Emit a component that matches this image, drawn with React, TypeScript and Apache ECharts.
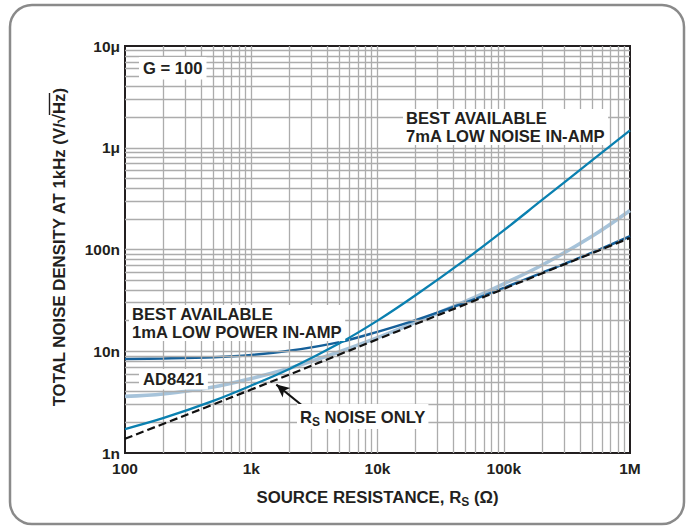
import React, { useEffect, useRef } from "react";
import * as echarts from "echarts";

// Source resistance (Ω)
const resistance = [100, 200, 500, 1000, 2000, 5000, 10000, 20000, 50000, 100000, 200000, 500000, 1000000];
// Noise densities in nV/√Hz
const rsNoiseOnly = [1.38, 1.93, 3.0, 4.2, 5.9, 9.3, 13.1, 18.5, 29, 41, 58, 92, 130];
const ad8421 = [3.6, 3.8, 4.45, 5.4, 6.8, 9.9, 13.6, 19.2, 31, 46, 70, 135, 242];
const bestLowNoise7mA = [1.72, 2.2, 3.25, 4.6, 6.7, 12, 20, 35.5, 80, 154, 305, 750, 1480];
const bestLowPower1mA = [8.4, 8.5, 8.75, 9.2, 10.1, 12.3, 15.5, 20.2, 30.2, 42, 59, 93, 135];

const xTickValues = [100, 1000, 10000, 100000, 1000000];
const xTickLabels = ["100", "1k", "10k", "100k", "1M"];
const yTickValues = [1, 10, 100, 1000, 10000];
const yTickLabels = ["1n", "10n", "100n", "1μ", "10μ"];

const FONT = '"Liberation Sans", Arial, Helvetica, sans-serif';
const INK = "#231f20";
const ANN = 16.6;

function pickLabel(values: number[], labels: string[], v: number) {
  const i = values.findIndex((t) => Math.abs(Math.log10(t) - Math.log10(v)) < 1e-6);
  return i >= 0 ? labels[i] : "";
}

export default function App() {
  const ref = useRef<HTMLDivElement>(null);
  useEffect(() => {
    const chart = echarts.init(ref.current!, null, { renderer: "svg" });

    const gridX: number[] = [];
    for (let d = 100; d < 1000000; d *= 10)
      for (let m = 1; m <= 9; m++) if (m * d > 100) gridX.push(m * d);
    const gridY: number[] = [];
    for (let d = 1; d < 10000; d *= 10)
      for (let m = 1; m <= 9; m++) if (m * d > 1) gridY.push(m * d);

    const pairs = (arr: number[]) => resistance.map((r, i) => [r, arr[i]]);

    const txt = (
      text: string,
      x: number,
      y: number,
      extra: Record<string, unknown> = {}
    ) => ({
      type: "text",
      x,
      y,
      z: 100,
      style: {
        text,
        font: `bold ${ANN}px ${FONT}`,
        fill: INK,
        backgroundColor: "#fff",
        padding: [1, 3, 0, 3],
        lineHeight: 17.5,
        verticalAlign: "top",
        ...extra,
      },
    });

    chart.setOption({
      animation: false,
      backgroundColor: "#fff",
      grid: {
        left: 125,
        right: 60,
        top: 46,
        bottom: 76,
        show: true,
        borderColor: INK,
        borderWidth: 2,
        backgroundColor: "transparent",
      },
      xAxis: {
        type: "log",
        logBase: 10,
        min: 100,
        max: 1000000,
        axisLine: { show: false },
        axisTick: { show: false },
        splitLine: { show: false },
        axisLabel: {
          formatter: (v: number) => pickLabel(xTickValues, xTickLabels, v),
          color: INK,
          fontWeight: "bold",
          fontSize: 15.5,
          fontFamily: FONT,
          margin: 7,
        },
        name: "{a|SOURCE RESISTANCE, R}{s|S}{a| (Ω)}",
        nameLocation: "middle",
        nameGap: 33,
        nameTextStyle: {
          rich: {
            a: { fontSize: 16.8, fontWeight: "bold", fontFamily: FONT, color: INK },
            s: { fontSize: 12, fontWeight: "bold", fontFamily: FONT, color: INK, padding: [10, 0, 0, 0] },
          },
        },
      },
      yAxis: {
        type: "log",
        logBase: 10,
        min: 1,
        max: 10000,
        axisLine: { show: false },
        axisTick: { show: false },
        splitLine: { show: false },
        axisLabel: {
          formatter: (v: number) => pickLabel(yTickValues, yTickLabels, v),
          color: INK,
          fontWeight: "bold",
          fontSize: 15.5,
          fontFamily: FONT,
          margin: 5,
        },
      },
      series: [
        {
          type: "line",
          data: [],
          silent: true,
          markLine: {
            silent: true,
            symbol: "none",
            label: { show: false },
            lineStyle: { color: "#acacac", width: 1.3, type: "solid" },
            data: [
              ...gridX.map((v) => ({ xAxis: v })),
              ...gridY.map((v) => ({ yAxis: v })),
            ],
          },
        },
        {
          name: "AD8421",
          type: "line",
          data: pairs(ad8421),
          symbol: "none",
          smooth: 0.35,
          lineStyle: { color: "#a6c3da", width: 3.6 },
          z: 3,
        },
        {
          name: "1mA",
          type: "line",
          data: pairs(bestLowPower1mA),
          symbol: "none",
          smooth: 0.35,
          lineStyle: { color: "#15609a", width: 2.5 },
          z: 4,
        },
        {
          name: "7mA",
          type: "line",
          data: pairs(bestLowNoise7mA),
          symbol: "none",
          smooth: 0.35,
          lineStyle: { color: "#0a80b0", width: 2.3 },
          z: 5,
        },
        {
          name: "Rs",
          type: "line",
          data: pairs(rsNoiseOnly),
          symbol: "none",
          smooth: 0.35,
          lineStyle: { color: "#111", width: 2.2, type: [8, 4] },
          z: 6,
          markLine: {
            silent: true,
            symbol: ["none", "arrow"],
            symbolSize: [9, 13],
            label: { show: false },
            lineStyle: { color: "#111", width: 2, type: "solid" },
            data: [[{ coord: [2900, 2.56] }, { coord: [1580, 4.7] }]],
          },
        },
      ],
      graphic: [
        {
          type: "rect",
          z: -10,
          shape: { x: 10, y: 5, width: 674, height: 519, r: 22 },
          style: { fill: "none", stroke: "#8a8a8a", lineWidth: 2.5 },
        },
        txt("G = 100", 139, 57, { padding: [3, 4, 2, 4] }),
        txt("BEST AVAILABLE\n7mA LOW NOISE IN-AMP", 403, 109),
        txt("BEST AVAILABLE\n1mA LOW POWER IN-AMP", 129, 305),
        txt("AD8421", 139, 369, { padding: [2, 4, 1, 4] }),
        {
          type: "text",
          x: 297,
          y: 404,
          z: 100,
          style: {
            text: "{b|R}{s|S}{b| NOISE ONLY}",
            backgroundColor: "#fff",
            padding: [2, 3, 1, 3],
            verticalAlign: "top",
            rich: {
              b: { font: `bold ${ANN}px ${FONT}`, fill: INK },
              s: { font: `bold 12px ${FONT}`, fill: INK, padding: [10, 0, 0, 0] },
            },
          },
        },
        {
          type: "group",
          x: 59,
          y: 114,
          rotation: Math.PI / 2,
          z: 100,
          children: [
            {
              type: "text",
              x: 0,
              y: 0,
              style: {
                text: "TOTAL NOISE DENSITY AT 1kHz (V/√",
                font: `bold 16.8px ${FONT}`,
                fill: INK,
                align: "right",
                verticalAlign: "middle",
              },
            },
            {
              type: "text",
              x: 0,
              y: 0,
              style: {
                text: "Hz)",
                font: `bold 16.8px ${FONT}`,
                fill: INK,
                align: "left",
                verticalAlign: "middle",
              },
            },
            {
              type: "line",
              shape: { x1: -1, y1: -9.5, x2: 21, y2: -9.5 },
              style: { stroke: INK, lineWidth: 1.4 },
            },
          ],
        },
      ],
    });
    return () => chart.dispose();
  }, []);
  return (
    <div
      ref={ref}
      style={{ position: "fixed", left: 0, top: 0, width: 690, height: 529, background: "#fff" }}
    />
  );
}
